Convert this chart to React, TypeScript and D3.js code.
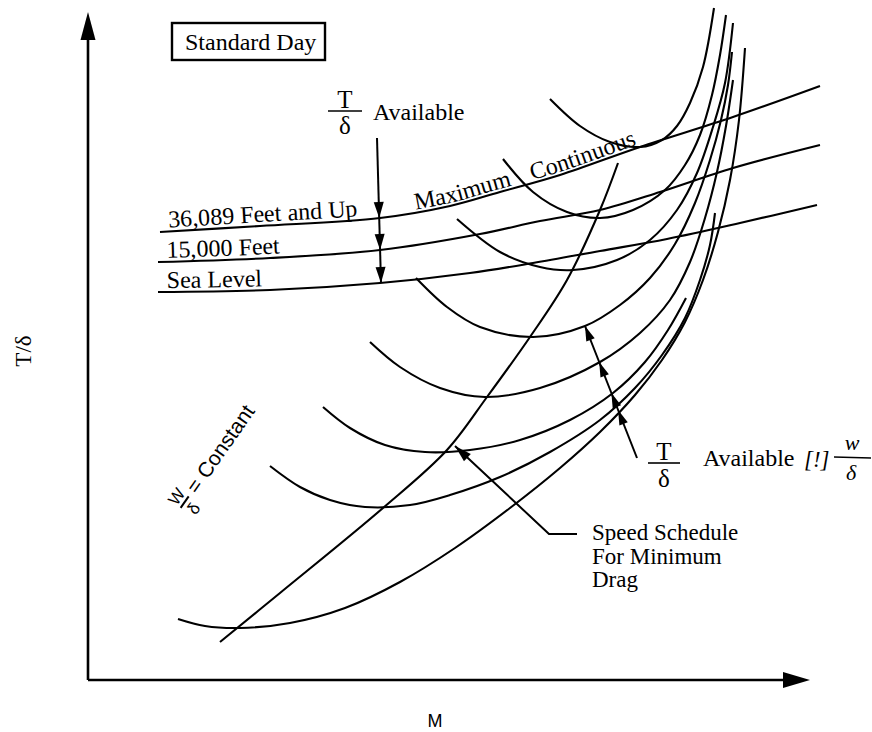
import React from "react";
import * as d3 from "d3";

// Chart units: M along the horizontal axis, T/δ along the vertical axis.
const M_MAX = 72.2;
const T_MAX = 66.5;

// Thrust available (maximum continuous) per altitude
const altitudeNames = ["36,089 Feet and Up", "15,000 Feet", "Sea Level"];
const thrust36089: [number, number][] = [
  [7.2, 44.8], [17.2, 45.4], [29.2, 46.2], [36.2, 47.4], [41.2, 48.8],
  [47.2, 50.5], [55.2, 53.3], [64.5, 56.3], [73.2, 59.4],
];
const thrust15000: [number, number][] = [
  [7.0, 41.8], [18.2, 42.2], [29.2, 43.0], [39.2, 44.6], [45.2, 45.9],
  [51.2, 47.0], [57.2, 48.8], [64.5, 51.2], [73.2, 53.5],
];
const thrustSeaLevel: [number, number][] = [
  [7.0, 38.8], [18.2, 39.0], [29.2, 39.7], [38.2, 40.7], [44.5, 41.7],
  [51.2, 42.9], [57.9, 44.1], [65.2, 45.7], [72.9, 47.5],
];

// Thrust required for constant W/δ, lightest at the bottom
const drag1: [number, number][] = [
  [9.0, 6.1], [11.7, 5.4], [15.2, 5.2], [20.2, 5.7], [25.7, 7.2], [31.2, 9.8],
  [36.7, 13.2], [42.2, 17.2], [47.2, 21.2], [51.2, 24.8], [54.7, 28.5],
  [57.4, 32.0], [59.7, 35.8], [61.5, 40.0], [63.0, 44.8], [64.2, 50.0],
  [65.1, 56.0], [65.7, 63.2],
];
const drag2: [number, number][] = [
  [18.2, 21.4], [21.2, 19.3], [24.2, 18.0], [27.7, 17.3], [32.2, 17.5],
  [36.2, 18.5], [41.2, 20.3], [46.2, 22.8], [51.2, 26.0], [54.7, 29.2],
  [57.4, 32.5], [59.7, 36.2], [61.2, 40.0], [62.2, 43.5], [62.7, 46.7],
];
const drag3: [number, number][] = [
  [23.5, 27.3], [26.2, 25.2], [29.7, 23.5], [33.7, 22.8], [38.2, 23.0],
  [43.2, 24.0], [48.2, 26.0], [52.5, 28.7], [55.7, 31.8], [58.0, 35.0],
  [59.8, 38.2],
];
const drag4: [number, number][] = [
  [28.2, 33.8], [31.2, 31.3], [35.2, 29.2], [39.7, 28.3], [45.2, 29.2],
  [51.2, 31.8], [55.2, 34.7], [58.2, 38.0], [60.2, 41.8], [61.7, 46.2],
  [62.9, 50.8], [63.8, 55.4], [64.5, 60.0],
];
const drag5: [number, number][] = [
  [32.8, 40.2], [35.9, 37.3], [39.2, 35.3], [44.5, 34.3], [49.7, 35.4],
  [53.2, 37.5], [56.2, 40.2], [58.7, 43.6], [60.7, 47.7], [62.2, 52.0],
  [63.3, 56.0], [64.0, 59.5], [64.4, 62.8],
];
const drag6: [number, number][] = [
  [36.9, 46.1], [41.2, 42.8], [45.2, 41.3], [48.5, 41.0], [52.9, 42.0],
  [56.2, 44.0], [58.9, 47.0], [60.9, 50.7], [62.5, 55.3], [63.7, 59.7],
  [64.5, 65.7],
];
const drag7: [number, number][] = [
  [41.5, 52.1], [44.5, 48.8], [47.9, 46.8], [51.2, 46.2], [54.5, 47.0],
  [57.7, 49.0], [59.7, 51.5], [61.2, 54.5], [62.4, 58.5], [63.2, 62.5],
  [63.8, 66.5],
];
const drag8: [number, number][] = [
  [46.2, 58.1], [49.2, 55.4], [52.2, 53.8], [55.2, 53.3], [57.4, 54.0],
  [58.9, 55.4], [60.2, 57.7], [61.5, 61.3], [62.6, 67.2],
];
const dragCurves = [drag1, drag2, drag3, drag4, drag5, drag6, drag7, drag8];

// Speed schedule for minimum drag (through the bottoms of the drag curves)
const speedSchedule: [number, number][] = [
  [13.2, 3.8], [19.2, 8.7], [29.5, 17.2], [35.9, 23.0], [39.9, 28.3],
  [44.2, 34.3], [47.9, 40.0], [51.2, 47.0], [53.0, 51.7],
];

// T/δ available arrow on the right: tail, tip and the T/δ of each head
const availTail: [number, number] = [54.9, 22.2];
const availTip: [number, number] = [49.7, 35.4];
const availHeadsT = [35.4, 31.8, 28.7, 27.0];

// Altitude arrow: tail and the M where it meets the thrust lines
const altArrowTail: [number, number] = [28.9, 54.2];
const altArrowM = 29.2;

// Speed-schedule leader: tip, elbow, end
const leader: [number, number][] = [[36.7, 23.4], [46.1, 14.6], [48.9, 14.6]];
const leaderText = ["Speed Schedule", "For Minimum", "Drag"];

const x = d3.scaleLinear().domain([0, M_MAX]).range([88, 810]);
const y = d3.scaleLinear().domain([0, T_MAX]).range([680, 15]);

const serif = "Liberation Serif, Times New Roman, DejaVu Serif, serif";
const sans = "Liberation Sans, Arial, DejaVu Sans, sans-serif";

function valueAt(line: [number, number][], m: number): number {
  for (let i = 0; i < line.length - 1; i++) {
    const [m0, t0] = line[i];
    const [m1, t1] = line[i + 1];
    if (m >= m0 && m <= m1) return t0 + ((m - m0) / (m1 - m0)) * (t1 - t0);
  }
  return line[line.length - 1][1];
}

function head(tx: number, ty: number, fx: number, fy: number, len = 15, half = 5): string {
  const dx = tx - fx;
  const dy = ty - fy;
  const L = Math.hypot(dx, dy);
  const ux = dx / L;
  const uy = dy / L;
  const bx = tx - ux * len;
  const by = ty - uy * len;
  return `M${tx},${ty}L${bx - uy * half},${by + ux * half}L${bx + uy * half},${by - ux * half}Z`;
}

const serifStyle = { fontFamily: serif };
const sansStyle = { fontFamily: sans };

export default function App() {
  const line = d3
    .line<[number, number]>()
    .x((d) => x(d[0]))
    .y((d) => y(d[1]))
    .curve(d3.curveCatmullRom.alpha(0.5));

  const altitudeLines = [thrust36089, thrust15000, thrustSeaLevel];

  // altitude arrow geometry
  const altTips = altitudeLines.map((l) => valueAt(l, altArrowM));
  const altLowest = Math.min(...altTips);
  const altX = (t: number) =>
    altArrowTail[0] + ((altArrowTail[1] - t) / (altArrowTail[1] - altLowest)) * (altArrowM + 0.1 - altArrowTail[0]);
  const altTailPx = [x(altArrowTail[0]), y(altArrowTail[1])];

  // available arrow geometry
  const availAt = (t: number): [number, number] => {
    const f = (t - availTail[1]) / (availTip[1] - availTail[1]);
    return [availTail[0] + f * (availTip[0] - availTail[0]), t];
  };
  const aTail = [x(availTail[0]), y(availTail[1])];
  const aTip = [x(availTip[0]), y(availTip[1])];

  const lp = leader.map((d) => [x(d[0]), y(d[1])]);

  const x0 = x(0);
  const y0 = y(0);
  const yTop = y(66.8);
  const xEnd = x(M_MAX);

  return (
    <svg
      width={872}
      height={732}
      viewBox="0 0 872 732"
      style={{ position: "absolute", left: 0, top: 0, background: "#fff" }}
    >
      <rect x={0} y={0} width={872} height={732} fill="#fff" />

      {/* axes */}
      <g stroke="#000" fill="#000">
        <line x1={x0} y1={y0} x2={x0} y2={yTop + 20} strokeWidth={2.6} />
        <path d={head(x0, yTop, x0, y0, 28, 7.5)} stroke="none" />
        <line x1={x0} y1={y0} x2={xEnd - 20} y2={y0} strokeWidth={2.6} />
        <path d={head(xEnd, y0, x0, y0, 27, 8)} stroke="none" />
      </g>
      <text transform="translate(31,351) rotate(-90)" textAnchor="middle" style={serifStyle} fontSize={23}>
        T/δ
      </text>
      <text x={435} y={727} textAnchor="middle" style={sansStyle} fontSize={18}>
        M
      </text>

      {/* thrust available lines */}
      <g fill="none" stroke="#000" strokeWidth={2.1}>
        {altitudeLines.map((l, i) => (
          <path key={i} id={`alt-${i}`} d={line(l) ?? ""} />
        ))}
      </g>
      <g style={serifStyle} fontSize={24}>
        {altitudeNames.map((n, i) => (
          <text key={n} dy={-4} style={serifStyle}>
            <textPath href={`#alt-${i}`} startOffset={9}>
              {n}
            </textPath>
          </text>
        ))}
        <text dy={-3} style={serifStyle}>
          <textPath href="#alt-0" startOffset={257}>
            Maximum
          </textPath>
        </text>
        <text dy={-3} style={serifStyle}>
          <textPath href="#alt-0" startOffset={378}>
            Continuous
          </textPath>
        </text>
      </g>

      {/* drag curves */}
      <g fill="none" stroke="#000" strokeWidth={2.1}>
        {dragCurves.map((c, i) => (
          <path key={i} d={line(c) ?? ""} />
        ))}
        <path d={line(speedSchedule) ?? ""} />
      </g>

      {/* altitude arrow */}
      <g stroke="#000" fill="#000">
        <line
          x1={altTailPx[0]}
          y1={altTailPx[1]}
          x2={x(altX(altLowest))}
          y2={y(altLowest)}
          strokeWidth={2}
        />
        {altTips.map((t, i) => (
          <path key={i} d={head(x(altX(t)), y(t), altTailPx[0], altTailPx[1], 16, 5)} stroke="none" />
        ))}
      </g>

      {/* available arrow */}
      <g stroke="#000" fill="#000">
        <line x1={aTail[0]} y1={aTail[1]} x2={aTip[0]} y2={aTip[1]} strokeWidth={2} />
        {availHeadsT.map((t, i) => {
          const p = availAt(t);
          return <path key={i} d={head(x(p[0]), y(p[1]), aTail[0], aTail[1], 15, 4.5)} stroke="none" />;
        })}
      </g>

      {/* leader for speed schedule */}
      <g stroke="#000" fill="#000">
        <polyline points={lp.map((p) => p.join(",")).join(" ")} fill="none" strokeWidth={2} />
        <path d={head(lp[0][0], lp[0][1], lp[1][0], lp[1][1], 17, 5)} stroke="none" />
      </g>
      <g fontSize={23}>
        {leaderText.map((t, i) => (
          <text key={t} x={x(50.4)} y={y(14.0) + i * 23.5} style={serifStyle}>
            {t}
          </text>
        ))}
      </g>

      {/* Standard Day box */}
      <rect
        x={x(8.4)}
        y={y(65.7)}
        width={x(23.7) - x(8.4)}
        height={y(62.0) - y(65.7)}
        fill="none"
        stroke="#000"
        strokeWidth={2.4}
      />
      <text x={x(9.7)} y={y(63.0)} style={serifStyle} fontSize={24}>
        Standard Day
      </text>

      {/* T/δ Available (upper) */}
      <g>
        <text x={x(25.7)} y={y(57.2)} textAnchor="middle" fontSize={25} style={serifStyle}>
          T
        </text>
        <line x1={x(24.0)} x2={x(27.4)} y1={y(56.9)} y2={y(56.9)} stroke="#000" strokeWidth={1.6} />
        <text x={x(25.7)} y={y(54.6)} textAnchor="middle" fontSize={25} style={serifStyle}>
          δ
        </text>
        <text x={x(28.5)} y={y(56.0)} fontSize={24} style={serifStyle}>
          Available
        </text>
      </g>

      {/* T/δ Available [!] W/δ (lower) */}
      <g>
        <text x={x(57.6)} y={y(22.0)} textAnchor="middle" fontSize={25} style={serifStyle}>
          T
        </text>
        <line x1={x(56.0)} x2={x(59.2)} y1={y(21.7)} y2={y(21.7)} stroke="#000" strokeWidth={1.6} />
        <text x={x(57.6)} y={y(19.3)} textAnchor="middle" fontSize={25} style={serifStyle}>
          δ
        </text>
        <text x={x(61.5)} y={y(21.4)} fontSize={24} style={serifStyle}>
          Available
        </text>
        <text x={x(71.6)} y={y(21.3)} fontSize={23} fontStyle="italic" style={serifStyle}>
          [!]
        </text>
        <text x={x(76.4)} y={y(23.0)} textAnchor="middle" fontSize={22} fontStyle="italic" style={serifStyle}>
          w
        </text>
        <line x1={x(74.6)} x2={x(78.3)} y1={y(22.3)} y2={y(22.2)} stroke="#000" strokeWidth={1.4} />
        <text x={x(76.3)} y={y(20.0)} textAnchor="middle" fontSize={22} fontStyle="italic" style={serifStyle}>
          δ
        </text>
      </g>

      {/* W/δ = Constant */}
      <g transform={`translate(${x(9.5)},${y(17.9)}) rotate(-55)`}>
        <text x={0} y={-2} textAnchor="middle" fontSize={17} style={sansStyle}>
          W
        </text>
        <line x1={-7} x2={7} y1={2} y2={2} stroke="#000" strokeWidth={2} />
        <text x={0} y={19} textAnchor="middle" fontSize={17} style={sansStyle}>
          δ
        </text>
        <text x={13} y={8} fontSize={21} style={sansStyle}>
          = Constant
        </text>
      </g>
    </svg>
  );
}
